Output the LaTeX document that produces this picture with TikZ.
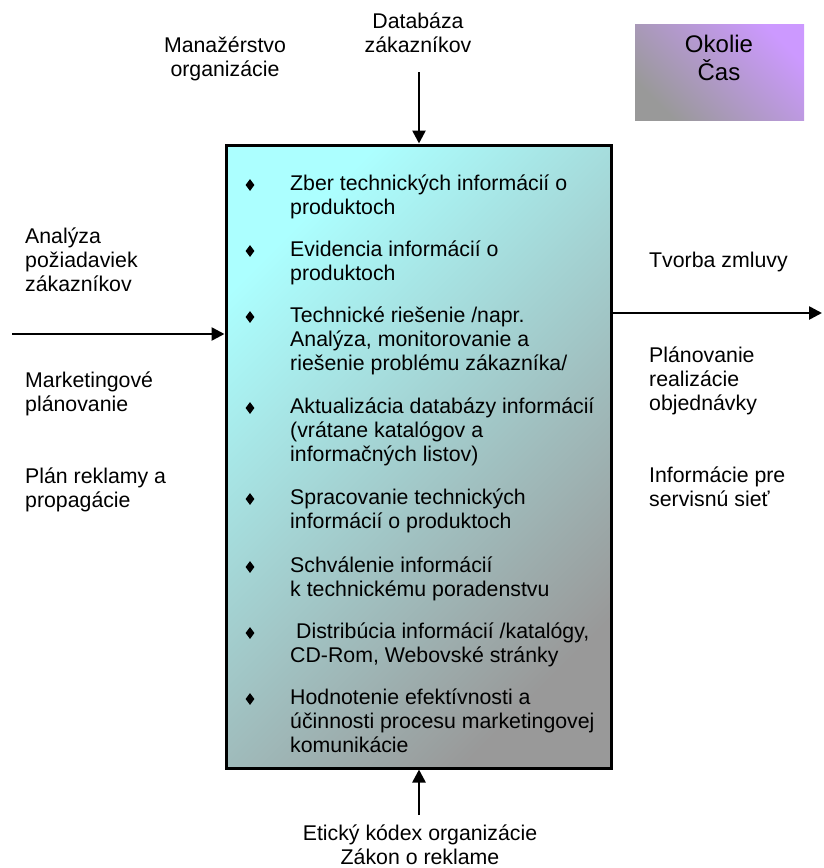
\documentclass[tikz,border=0pt]{standalone}
\usepackage{fontspec}
\setmainfont{Liberation Sans}
\usetikzlibrary{arrows.meta,shapes.geometric}
\definecolor{boxcyan}{RGB}{172,255,255}
\definecolor{boxgray}{RGB}{153,153,153}
\definecolor{envpurple}{RGB}{204,153,255}
% multi-line nodes sit on the baseline of their last line
\tikzset{
  lbl/.style={inner sep=0pt, font=\fontsize{21.3}{24}\selectfont, align=left, anchor=base west},
  clbl/.style={inner sep=0pt, font=\fontsize{21.3}{24}\selectfont, align=center, anchor=base},
  item/.style={inner sep=0pt, font=\fontsize{21.3}{24}\selectfont, align=left, anchor=base west},
  bul/.style={diamond, fill=black, inner sep=0pt, minimum width=9pt, minimum height=12pt},
  flow/.style={line width=2.6pt, -{Triangle[length=13pt,width=13pt]}},
}
\begin{document}
\begin{tikzpicture}[x=1pt,y=-1pt]
\useasboundingbox (0,0) rectangle (823,868);

% environment box
\node[minimum width=169pt, minimum height=96pt, inner sep=0pt,
      top color=envpurple, bottom color=boxgray, shading angle=-45] (env) at (719.5,72) {};
\node[inner sep=0pt, font=\fontsize{24}{28}\selectfont, align=center, anchor=base] (envtext) at (719,80) {Okolie\\Čas};

% process box
\node[draw, line width=3pt, minimum width=385pt, minimum height=623pt, inner sep=0pt,
      top color=boxcyan, bottom color=boxgray, shading angle=45] (proc) at (418.5,456.5) {};

% activities
\node[bul] (b1) at (250,185) {};
\node[item] (i1) at (290,214) {Zber technických informácií o\\produktoch};
\node[bul] (b2) at (250,251) {};
\node[item] (i2) at (290,280) {Evidencia informácií o\\produktoch};
\node[bul] (b3) at (250,317) {};
\node[item] (i3) at (290,370) {Technické riešenie /napr.\\Analýza, monitorovanie a\\riešenie problému zákazníka/};
\node[bul] (b4) at (250,408) {};
\node[item] (i4) at (290,461) {Aktualizácia databázy informácií\\(vrátane katalógov a\\informačných listov)};
\node[bul] (b5) at (250,499) {};
\node[item] (i5) at (290,528) {Spracovanie technických\\informácií o produktoch};
\node[bul] (b6) at (250,567) {};
\node[item] (i6) at (290,596) {Schválenie informácií\\k technickému poradenstvu};
\node[bul] (b7) at (250,633) {};
\node[item] (i7) at (290,662) {\hspace*{6pt}Distribúcia informácií /katalógy,\\CD-Rom, Webovské stránky};
\node[bul] (b8) at (250,699) {};
\node[item] (i8) at (290,752) {Hodnotenie efektívnosti a\\účinnosti procesu marketingovej\\komunikácie};

% inputs
\node[lbl] (in1) at (25,291) {Analýza\\požiadaviek\\zákazníkov};
\node[lbl] (in2) at (25,411) {Marketingové\\plánovanie};
\node[lbl] (in3) at (25,507) {Plán reklamy a\\propagácie};

% outputs
\node[lbl] (out1) at (649,267) {Tvorba zmluvy};
\node[lbl] (out2) at (649,410) {Plánovanie\\realizácie\\objednávky};
\node[lbl] (out3) at (649,506) {Informácie pre\\servisnú sieť};

% controls and mechanisms
\node[clbl] (ctl1) at (225,76) {Manažérstvo\\organizácie};
\node[clbl] (ctl2) at (418,52) {Databáza\\zákazníkov};
\node[clbl] (mech) at (420,864) {Etický kódex organizácie\\Zákon o reklame};

% arrows
\coordinate (topin) at (419,72);
\draw[flow] (topin) -- (topin |- proc.north);
\coordinate (botin) at (419,815);
\draw[flow] (botin) -- (botin |- proc.south);
\coordinate (leftin) at (12,334);
\draw[flow] (leftin) -- (leftin -| proc.west);
\coordinate (rightout) at (822,313);
\draw[flow] (rightout -| proc.east) -- (rightout);
\end{tikzpicture}
\end{document}
